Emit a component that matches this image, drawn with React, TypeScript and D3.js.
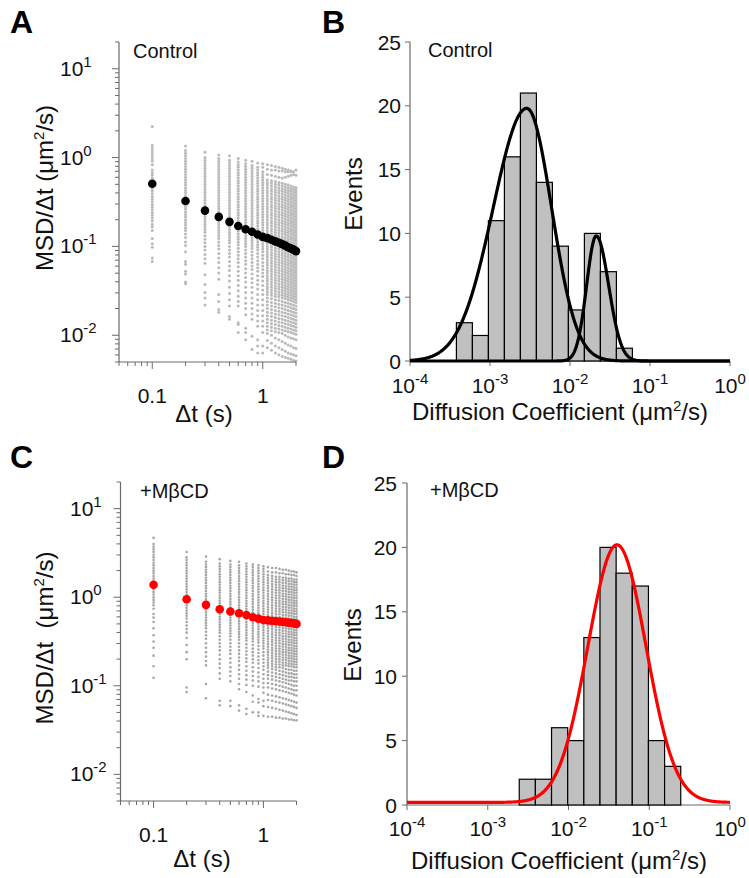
import React from 'react';
import * as d3 from 'd3';

// ---------------- DATA ----------------
const LAGS = [0.1, 0.2, 0.3, 0.4, 0.5, 0.6, 0.7, 0.8, 0.9, 1.0, 1.1, 1.2, 1.3, 1.4, 1.5, 1.6, 1.7, 1.8, 1.9, 2.0];
const MSD_X_DOMAIN = [0.05, 2];
const MSD_Y_DOMAIN = [0.005, 20];
const MSD_X_LABELS = [0.1, 1];

// mean MSD/Δt (µm²/s)
const A_MEAN = [0.507, 0.324, 0.253, 0.215, 0.189, 0.17, 0.156, 0.146, 0.136, 0.128, 0.124, 0.119, 0.114, 0.11, 0.106, 0.102, 0.098, 0.095, 0.092, 0.0886];
const C_MEAN = [1.38, 0.95, 0.82, 0.73, 0.69, 0.66, 0.63, 0.594, 0.573, 0.553, 0.547, 0.541, 0.536, 0.531, 0.526, 0.521, 0.516, 0.511, 0.506, 0.5];

// individual tracks, log10(MSD/Δt) in hundredths, one list per lag
const A_GRAY_LOG100 = [
  [35, 14, 11, 8, 5, 2, -1, -4, -8, -14, -17, -20, -23, -26, -29, -32, -35, -38, -41, -44, -47, -50, -53, -56, -59, -62, -65, -68, -71, -75, -78, -82, -91, -97, -101, -113, -117],
  [13, 8, 5, 2, -1, -4, -7, -10, -13, -16, -19, -22, -25, -28, -31, -34, -37, -40, -43, -46, -49, -52, -55, -58, -61, -64, -67, -70, -73, -76, -79, -82, -86, -90, -95, -99, -106, -117, -120, -128, -131, -140, -142],
  [6, 0, -3, -6, -9, -12, -15, -18, -21, -24, -27, -30, -33, -36, -39, -42, -45, -48, -51, -54, -57, -60, -63, -66, -69, -72, -75, -78, -81, -84, -88, -92, -96, -100, -104, -109, -114, -119, -132, -143, -152, -158, -166],
  [3, -1, -4, -7, -10, -13, -16, -19, -22, -25, -28, -31, -34, -37, -40, -43, -46, -49, -52, -55, -58, -61, -64, -67, -70, -73, -76, -79, -82, -85, -88, -91, -95, -99, -103, -108, -113, -118, -124, -130, -137, -154, -162, -171, -174],
  [2, -3, -6, -9, -12, -15, -18, -21, -24, -27, -30, -33, -36, -39, -42, -45, -48, -51, -54, -57, -60, -63, -66, -69, -72, -75, -78, -81, -84, -87, -90, -93, -96, -100, -104, -108, -112, -117, -122, -127, -133, -139, -146, -153, -160, -167, -179, -182],
  [-1, -5, -8, -11, -14, -17, -20, -23, -26, -29, -32, -35, -38, -41, -44, -47, -50, -53, -56, -59, -62, -65, -68, -71, -74, -77, -80, -83, -86, -89, -92, -95, -98, -102, -106, -110, -114, -118, -123, -128, -133, -138, -144, -150, -156, -162, -167, -186, -188, -197],
  [-3, -7, -10, -13, -16, -19, -22, -25, -28, -31, -34, -37, -40, -43, -46, -49, -52, -55, -58, -61, -64, -67, -70, -73, -76, -79, -82, -85, -88, -91, -94, -97, -100, -104, -108, -112, -116, -120, -125, -130, -135, -140, -146, -152, -158, -164, -170, -177, -192, -197, -205],
  [-4, -9, -12, -15, -18, -21, -24, -27, -30, -33, -36, -39, -42, -45, -48, -51, -54, -57, -60, -63, -66, -69, -72, -75, -78, -81, -84, -87, -90, -93, -96, -99, -102, -106, -110, -114, -118, -122, -126, -131, -136, -141, -146, -152, -158, -164, -170, -176, -182, -201, -216],
  [-6, -11, -14, -17, -20, -23, -26, -29, -32, -35, -38, -41, -44, -47, -50, -53, -56, -59, -62, -65, -68, -71, -74, -77, -80, -83, -86, -89, -92, -95, -98, -101, -104, -108, -112, -116, -120, -124, -128, -133, -138, -143, -148, -154, -160, -166, -172, -178, -184, -190, -205, -212, -220],
  [-7, -11, -16, -19, -22, -25, -28, -31, -34, -37, -40, -43, -46, -49, -52, -55, -58, -61, -64, -67, -70, -73, -76, -79, -82, -85, -88, -91, -94, -97, -100, -103, -106, -110, -114, -118, -122, -126, -130, -134, -139, -144, -149, -154, -160, -166, -172, -178, -184, -190, -197, -212, -220],
  [-8, -13, -19, -25, -28, -31, -34, -37, -40, -43, -46, -49, -52, -55, -58, -61, -64, -67, -70, -73, -76, -79, -82, -85, -88, -91, -94, -97, -100, -103, -106, -109, -112, -115, -118, -121, -124, -127, -130, -133, -136, -139, -142, -145, -148, -151, -154, -158, -162, -166, -170, -174, -178, -182, -186, -190, -194, -198, -206, -214],
  [-9, -14, -20, -26, -29, -32, -35, -38, -41, -44, -47, -50, -53, -56, -59, -62, -65, -68, -71, -74, -77, -80, -83, -86, -89, -92, -95, -98, -101, -104, -107, -110, -113, -116, -119, -122, -125, -128, -131, -134, -137, -140, -143, -146, -149, -152, -155, -159, -163, -167, -171, -175, -179, -183, -187, -191, -195, -200, -209, -217],
  [-10, -14, -21, -27, -30, -33, -36, -39, -42, -45, -48, -51, -54, -57, -60, -63, -66, -69, -72, -75, -78, -81, -84, -87, -90, -93, -96, -99, -102, -105, -108, -111, -114, -117, -120, -123, -126, -129, -132, -135, -138, -141, -144, -147, -150, -153, -156, -160, -164, -168, -172, -176, -180, -184, -188, -192, -196, -203, -212, -220],
  [-11, -15, -22, -28, -31, -34, -37, -40, -43, -46, -49, -52, -55, -58, -61, -64, -67, -70, -73, -76, -79, -82, -85, -88, -91, -94, -97, -100, -103, -106, -109, -112, -115, -118, -121, -124, -127, -130, -133, -136, -139, -142, -145, -148, -151, -154, -157, -161, -165, -169, -173, -177, -181, -185, -189, -193, -197, -205, -214, -222],
  [-12, -15, -23, -29, -32, -35, -38, -41, -44, -47, -50, -53, -56, -59, -62, -65, -68, -71, -74, -77, -80, -83, -86, -89, -92, -95, -98, -101, -104, -107, -110, -113, -116, -119, -122, -125, -128, -131, -134, -137, -140, -143, -146, -149, -152, -155, -158, -162, -166, -170, -174, -178, -182, -186, -190, -194, -198, -207, -216, -224],
  [-13, -16, -22, -30, -33, -36, -39, -42, -45, -48, -51, -54, -57, -60, -63, -66, -69, -72, -75, -78, -81, -84, -87, -90, -93, -96, -99, -102, -105, -108, -111, -114, -117, -120, -123, -126, -129, -132, -135, -138, -141, -144, -147, -150, -153, -156, -159, -163, -167, -171, -175, -179, -183, -187, -191, -195, -200, -209, -218, -225],
  [-14, -16, -21, -31, -34, -37, -40, -43, -46, -49, -52, -55, -58, -61, -64, -67, -70, -73, -76, -79, -82, -85, -88, -91, -94, -97, -100, -103, -106, -109, -112, -115, -118, -121, -124, -127, -130, -133, -136, -139, -142, -145, -148, -151, -154, -157, -160, -164, -168, -172, -176, -180, -184, -188, -192, -196, -202, -211, -220, -226],
  [-15, -16, -20, -32, -35, -38, -41, -44, -47, -50, -53, -56, -59, -62, -65, -68, -71, -74, -77, -80, -83, -86, -89, -92, -95, -98, -101, -104, -107, -110, -113, -116, -119, -122, -125, -128, -131, -134, -137, -140, -143, -146, -149, -152, -155, -158, -161, -165, -169, -173, -177, -181, -185, -189, -193, -197, -203, -212, -221, -227],
  [-16, -19, -33, -36, -39, -42, -45, -48, -51, -54, -57, -60, -63, -66, -69, -72, -75, -78, -81, -84, -87, -90, -93, -96, -99, -102, -105, -108, -111, -114, -117, -120, -123, -126, -129, -132, -135, -138, -141, -144, -147, -150, -153, -156, -159, -162, -166, -170, -174, -178, -182, -186, -190, -194, -198, -204, -214, -222, -228],
  [-14, -20, -34, -37, -40, -43, -46, -49, -52, -55, -58, -61, -64, -67, -70, -73, -76, -79, -82, -85, -88, -91, -94, -97, -100, -103, -106, -109, -112, -115, -118, -121, -124, -127, -130, -133, -136, -139, -142, -145, -148, -151, -154, -157, -160, -163, -167, -171, -175, -179, -183, -187, -191, -195, -199, -205, -215, -223, -229],
];

const C_GRAY_LOG100 = [
  [67, 60, 57, 54, 51, 48, 45, 42, 39, 36, 33, 30, 27, 24, 21, 18, 15, 12, 9, 6, 3, 0, -3, -6, -9, -13, -19, -23, -28, -35, -43, -50, -57, -66, -78, -91],
  [51, 45, 42, 39, 36, 33, 30, 27, 24, 21, 18, 15, 12, 9, 6, 3, 0, -3, -6, -9, -12, -15, -18, -21, -24, -28, -32, -36, -40, -46, -54, -62, -70, -102, -107],
  [46, 40, 37, 34, 31, 28, 25, 22, 19, 16, 13, 10, 7, 4, 1, -2, -5, -8, -11, -14, -17, -20, -23, -26, -29, -32, -35, -39, -43, -47, -52, -57, -62, -67, -72, -77, -98, -114],
  [43, 38, 35, 32, 29, 26, 23, 20, 17, 14, 11, 8, 5, 2, -1, -4, -7, -10, -13, -16, -19, -22, -25, -28, -31, -34, -37, -40, -44, -48, -52, -56, -60, -65, -70, -75, -80, -86, -92, -117, -122],
  [41, 37, 34, 31, 28, 25, 22, 19, 16, 13, 10, 7, 4, 1, -2, -5, -8, -11, -14, -17, -20, -23, -26, -29, -32, -35, -38, -41, -44, -48, -52, -56, -60, -64, -69, -74, -79, -84, -89, -95, -117, -123],
  [40, 36, 33, 30, 27, 24, 21, 18, 15, 12, 9, 6, 3, 0, -3, -6, -9, -12, -15, -18, -21, -24, -27, -30, -33, -36, -39, -42, -45, -48, -52, -56, -60, -64, -68, -72, -77, -82, -87, -92, -98, -104, -122, -128],
  [38, 35, 32, 29, 26, 23, 20, 17, 14, 11, 8, 5, 2, -1, -4, -7, -10, -13, -16, -19, -22, -25, -28, -31, -34, -37, -40, -43, -46, -49, -53, -57, -61, -65, -69, -73, -78, -83, -88, -93, -99, -107, -126, -132],
  [37, 34, 31, 28, 25, 22, 19, 16, 13, 10, 7, 4, 1, -2, -5, -8, -11, -14, -17, -20, -23, -26, -29, -32, -35, -38, -41, -44, -47, -50, -54, -58, -62, -66, -70, -74, -79, -84, -89, -94, -100, -111, -118, -130],
  [36, 33, 30, 27, 24, 21, 18, 15, 12, 9, 6, 3, 0, -3, -6, -9, -12, -15, -18, -21, -24, -27, -30, -33, -36, -39, -42, -45, -48, -51, -55, -59, -63, -67, -71, -75, -80, -85, -90, -95, -101, -115, -119, -130, -134],
  [35, 32, 29, 26, 23, 20, 17, 14, 11, 8, 5, 2, -1, -4, -7, -10, -13, -16, -19, -22, -25, -28, -31, -34, -37, -40, -43, -46, -49, -52, -55, -58, -62, -66, -70, -74, -78, -82, -87, -92, -97, -102, -108, -117, -123, -134],
  [34, 29, 25, 22, 19, 16, 13, 10, 7, 4, 1, -2, -5, -8, -11, -14, -17, -20, -23, -26, -29, -32, -35, -38, -41, -44, -47, -50, -53, -56, -59, -62, -65, -68, -71, -74, -77, -80, -84, -88, -92, -97, -102, -110, -116, -124, -135],
  [33, 28, 24, 21, 18, 15, 12, 9, 6, 3, 0, -3, -6, -9, -12, -15, -18, -21, -24, -27, -30, -33, -36, -39, -42, -45, -48, -51, -54, -57, -60, -63, -66, -69, -72, -75, -78, -81, -85, -89, -93, -98, -103, -111, -117, -125, -135],
  [33, 28, 23, 20, 17, 14, 11, 8, 5, 2, -1, -4, -7, -10, -13, -16, -19, -22, -25, -28, -31, -34, -37, -40, -43, -46, -49, -52, -55, -58, -61, -64, -67, -70, -73, -76, -79, -82, -86, -90, -94, -99, -104, -112, -118, -126, -136],
  [32, 27, 23, 20, 17, 14, 11, 8, 5, 2, -1, -4, -7, -10, -13, -16, -19, -22, -25, -28, -31, -34, -37, -40, -43, -46, -49, -52, -55, -58, -61, -64, -67, -70, -73, -76, -79, -83, -87, -91, -95, -100, -105, -113, -119, -127, -136],
  [31, 27, 22, 19, 16, 13, 10, 7, 4, 1, -2, -5, -8, -11, -14, -17, -20, -23, -26, -29, -32, -35, -38, -41, -44, -47, -50, -53, -56, -59, -62, -65, -68, -71, -74, -77, -80, -84, -88, -92, -96, -101, -106, -114, -120, -128, -137],
  [31, 26, 22, 19, 16, 13, 10, 7, 4, 1, -2, -5, -8, -11, -14, -17, -20, -23, -26, -29, -32, -35, -38, -41, -44, -47, -50, -53, -56, -59, -62, -65, -68, -71, -74, -77, -81, -85, -89, -93, -97, -102, -107, -115, -121, -129, -137],
  [30, 26, 21, 18, 15, 12, 9, 6, 3, 0, -3, -6, -9, -12, -15, -18, -21, -24, -27, -30, -33, -36, -39, -42, -45, -48, -51, -54, -57, -60, -63, -66, -69, -72, -75, -78, -82, -86, -90, -94, -98, -103, -108, -116, -122, -130, -138],
  [29, 25, 21, 18, 15, 12, 9, 6, 3, 0, -3, -6, -9, -12, -15, -18, -21, -24, -27, -30, -33, -36, -39, -42, -45, -48, -51, -54, -57, -60, -63, -66, -69, -72, -75, -78, -82, -86, -90, -94, -99, -104, -109, -117, -123, -131, -138],
  [29, 25, 20, 17, 14, 11, 8, 5, 2, -1, -4, -7, -10, -13, -16, -19, -22, -25, -28, -31, -34, -37, -40, -43, -46, -49, -52, -55, -58, -61, -64, -67, -70, -73, -76, -79, -83, -87, -91, -95, -100, -105, -110, -118, -124, -132, -139],
  [28, 24, 20, 17, 14, 11, 8, 5, 2, -1, -4, -7, -10, -13, -16, -19, -22, -25, -28, -31, -34, -37, -40, -43, -46, -49, -52, -55, -58, -61, -64, -67, -70, -73, -76, -79, -83, -87, -91, -95, -100, -105, -111, -119, -125, -133, -139],
];

// histograms: bin edges as log10(D), counts
const HIST_X_DOMAIN = [1e-4, 1];
const HIST_Y_TICKS = [0, 5, 10, 15, 20, 25];
const B_EDGES_LOG = [-3.42, -3.22, -3.02, -2.82, -2.62, -2.42, -2.22, -2.02, -1.82, -1.62, -1.42, -1.22];
const B_COUNTS = [3, 2, 11, 16, 21, 14, 9, 4, 10, 7, 1];
const D_EDGES_LOG = [-2.61, -2.41, -2.21, -2.01, -1.81, -1.61, -1.41, -1.21, -1.01, -0.81, -0.61];
const D_COUNTS = [2, 2, 6, 5, 13, 20, 18, 17, 5, 3];

// Gaussian fits in log10(D): center, left/right sigma, amplitude, baseline
const B_FIT_CENTER = [-2.54, -1.672];
const B_FIT_SIGMA_L = [0.42, 0.12];
const B_FIT_SIGMA_R = [0.31, 0.155];
const B_FIT_AMP = [19.8, 9.8];
const B_FIT_BASE = [0, 0];
const D_FIT_CENTER = [-1.4];
const D_FIT_SIGMA_L = [0.36];
const D_FIT_SIGMA_R = [0.36];
const D_FIT_AMP = [20.0];
const D_FIT_BASE = [0.2];

// ---------------- STYLE ----------------
const FONT = "'Liberation Sans', Arial, Helvetica, sans-serif";
const AXIS = '#6a6a6a';
const TICK_FS = 21;
const SUP_FS = 15;
const TITLE_FS = 24;

const isMajor = (t: number) => Math.abs(Math.log10(t) - Math.round(Math.log10(t))) < 1e-6;

function Pow10({ x, y, exp, anchor }: { x: number; y: number; exp: number; anchor: string }) {
  return (
    <text x={x} y={y} textAnchor={anchor} fontSize={TICK_FS} fontFamily={FONT} fill="#111">
      10<tspan dy={-9} fontSize={SUP_FS}>{exp < 0 ? '-' + Math.abs(exp) : String(exp)}</tspan>
    </text>
  );
}

function UnitTitle({ x, y, rotate, pre }: { x: number; y: number; rotate?: boolean; pre: string }) {
  return (
    <text
      transform={`translate(${x},${y})${rotate ? ' rotate(-90)' : ''}`}
      textAnchor="middle"
      fontSize={TITLE_FS}
      fontFamily={FONT}
      fill="#111"
      style={{ whiteSpace: 'pre' }}
    >
      {pre}
      <tspan dy={-9} fontSize={15}>2</tspan>
      <tspan dy={9}>/s)</tspan>
    </text>
  );
}

type MsdProps = {
  left: number; right: number; top: number; bottom: number;
  gray: number[][]; means: number[]; meanColor: string; grayColor: string; grayR: number;
  yLabelX: number; xLabelY: number; xTitleX: number; xTitleY: number;
  yTitleX: number; yTitleY: number; yTitle: string; note: string; noteX: number; noteY: number;
};

function MsdPanel(p: MsdProps) {
  const x = d3.scaleLog().domain(MSD_X_DOMAIN).range([p.left, p.right]);
  const y = d3.scaleLog().domain(MSD_Y_DOMAIN).range([p.bottom, p.top]);
  const xt = x.ticks();
  const yt = y.ticks();
  return (
    <g>
      {p.gray.map((col, i) =>
        col.map((v, j) => (
          <circle key={`g${i}-${j}`} cx={x(LAGS[i])} cy={y(Math.pow(10, v / 100))} r={p.grayR} fill={p.grayColor} />
        ))
      )}
      {p.means.map((m, i) => (
        <circle key={`m${i}`} cx={x(LAGS[i])} cy={y(m)} r={4.3} fill={p.meanColor} />
      ))}
      <line x1={p.left} x2={p.left} y1={p.top} y2={p.bottom} stroke={AXIS} strokeWidth={1.2} />
      <line x1={p.left} x2={p.right} y1={p.bottom} y2={p.bottom} stroke={AXIS} strokeWidth={1.2} />
      {yt.map((t, i) => (
        <line key={`yt${i}`} x1={p.left - (isMajor(t) ? 7 : 4)} x2={p.left} y1={y(t)} y2={y(t)} stroke={AXIS} strokeWidth={1} />
      ))}
      {xt.map((t, i) => (
        <line key={`xt${i}`} y1={p.bottom} y2={p.bottom + (isMajor(t) ? 7 : 4)} x1={x(t)} x2={x(t)} stroke={AXIS} strokeWidth={1} />
      ))}
      {yt.filter(isMajor).map((t, i) => (
        <Pow10 key={`yl${i}`} x={p.yLabelX} y={y(t) + 7} exp={Math.round(Math.log10(t))} anchor="start" />
      ))}
      {MSD_X_LABELS.map((t, i) => (
        <text key={`xl${i}`} x={x(t)} y={p.xLabelY} textAnchor="middle" fontSize={TICK_FS} fontFamily={FONT} fill="#111">
          {String(t)}
        </text>
      ))}
      <text x={p.xTitleX} y={p.xTitleY} textAnchor="middle" fontSize={TITLE_FS} fontFamily={FONT} fill="#111">Δt (s)</text>
      <UnitTitle x={p.yTitleX} y={p.yTitleY} rotate pre={p.yTitle} />
      <text x={p.noteX} y={p.noteY} fontSize={20} fontFamily={FONT} fill="#111">{p.note}</text>
    </g>
  );
}

type HistProps = {
  left: number; right: number; top: number; bottom: number;
  edges: number[]; counts: number[];
  centers: number[]; sigL: number[]; sigR: number[]; amps: number[]; bases: number[];
  curveColor: string;
  yLabelX: number; xLabelY: number; xTitleX: number; xTitleY: number;
  yTitleX: number; yTitleY: number; note: string; noteX: number; noteY: number;
};

function HistPanel(p: HistProps) {
  const x = d3.scaleLog().domain(HIST_X_DOMAIN).range([p.left, p.right]);
  const y = d3.scaleLinear().domain([0, 25]).range([p.bottom, p.top]);
  const xt = x.ticks().filter(isMajor);
  const samples = d3.range(0, 801).map((i) => -4 + (4 * i) / 800);
  const curves = p.centers.map((c, k) => {
    const pts = samples.map((L) => {
      const s = L < c ? p.sigL[k] : p.sigR[k];
      const v = p.bases[k] + p.amps[k] * Math.exp(-((L - c) * (L - c)) / (2 * s * s));
      return [x(Math.pow(10, L)), y(v)] as [number, number];
    });
    return d3.line()(pts) as string;
  });
  return (
    <g>
      <line x1={p.left} x2={p.left} y1={p.top} y2={p.bottom} stroke={AXIS} strokeWidth={1.2} />
      <line x1={p.left} x2={p.right} y1={p.bottom} y2={p.bottom} stroke={AXIS} strokeWidth={1.2} />
      {HIST_Y_TICKS.map((t, i) => (
        <g key={`yt${i}`}>
          <line x1={p.left - 5} x2={p.left} y1={y(t)} y2={y(t)} stroke={AXIS} strokeWidth={1} />
          <text x={p.yLabelX} y={y(t) + 7.5} textAnchor="end" fontSize={TICK_FS} fontFamily={FONT} fill="#111">{t}</text>
        </g>
      ))}
      {xt.map((t, i) => (
        <g key={`xt${i}`}>
          <line x1={x(t)} x2={x(t)} y1={p.bottom} y2={p.bottom + 5} stroke={AXIS} strokeWidth={1} />
          <Pow10 x={x(t)} y={p.xLabelY} exp={Math.round(Math.log10(t))} anchor="middle" />
        </g>
      ))}
      {p.counts.map((c, i) => (
        <rect
          key={`b${i}`}
          x={x(Math.pow(10, p.edges[i]))}
          width={x(Math.pow(10, p.edges[i + 1])) - x(Math.pow(10, p.edges[i]))}
          y={y(c)}
          height={y(0) - y(c)}
          fill="#c0c0c0"
          stroke="#000"
          strokeWidth={1.2}
        />
      ))}
      {curves.map((d, i) => (
        <path key={`c${i}`} d={d} fill="none" stroke={p.curveColor} strokeWidth={3.2} strokeLinejoin="round" />
      ))}
      <UnitTitle x={p.xTitleX} y={p.xTitleY} pre="Diffusion Coefficient (μm" />
      <text transform={`translate(${p.yTitleX},${p.yTitleY}) rotate(-90)`} textAnchor="middle" fontSize={TITLE_FS} fontFamily={FONT} fill="#111">Events</text>
      <text x={p.noteX} y={p.noteY} fontSize={20} fontFamily={FONT} fill="#111">{p.note}</text>
    </g>
  );
}

export default function App() {
  return (
    <svg width={749} height={878} style={{ position: 'absolute', left: 0, top: 0, background: '#fff' }}>
      <rect x={0} y={0} width={749} height={878} fill="#fff" />
      {[
        ['A', 10, 33],
        ['B', 322, 33],
        ['C', 10, 468],
        ['D', 322, 468],
      ].map(([t, lx, ly]) => (
        <text key={t as string} x={lx as number} y={ly as number} fontSize={32} fontWeight="bold" fontFamily={FONT} fill="#000">{t}</text>
      ))}
      <MsdPanel
        left={119} right={296} top={42} bottom={362}
        gray={A_GRAY_LOG100} means={A_MEAN} meanColor="#000" grayColor="#bababa" grayR={1.5}
        yLabelX={60} xLabelY={403} xTitleX={204} xTitleY={422}
        yTitleX={53} yTitleY={188} yTitle="MSD/Δt (μm" note="Control" noteX={133} noteY={58}
      />
      <MsdPanel
        left={120.5} right={296.5} top={482} bottom={801}
        gray={C_GRAY_LOG100} means={C_MEAN} meanColor="#ff0000" grayColor="#a6a6a6" grayR={1.3}
        yLabelX={70} xLabelY={842} xTitleX={202} xTitleY={867}
        yTitleX={53} yTitleY={638} yTitle={'MSD/Δt  (μm'} note="+MβCD" noteX={140} noteY={498}
      />
      <HistPanel
        left={410} right={730} top={42} bottom={361}
        edges={B_EDGES_LOG} counts={B_COUNTS}
        centers={B_FIT_CENTER} sigL={B_FIT_SIGMA_L} sigR={B_FIT_SIGMA_R} amps={B_FIT_AMP} bases={B_FIT_BASE}
        curveColor="#000"
        yLabelX={401} xLabelY={393} xTitleX={560} xTitleY={420}
        yTitleX={362} yTitleY={194} note="Control" noteX={428} noteY={57}
      />
      <HistPanel
        left={407} right={730} top={483} bottom={805}
        edges={D_EDGES_LOG} counts={D_COUNTS}
        centers={D_FIT_CENTER} sigL={D_FIT_SIGMA_L} sigR={D_FIT_SIGMA_R} amps={D_FIT_AMP} bases={D_FIT_BASE}
        curveColor="#ff0000"
        yLabelX={397} xLabelY={836} xTitleX={559} xTitleY={869}
        yTitleX={361} yTitleY={645} note="+MβCD" noteX={430} noteY={497}
      />
    </svg>
  );
}
